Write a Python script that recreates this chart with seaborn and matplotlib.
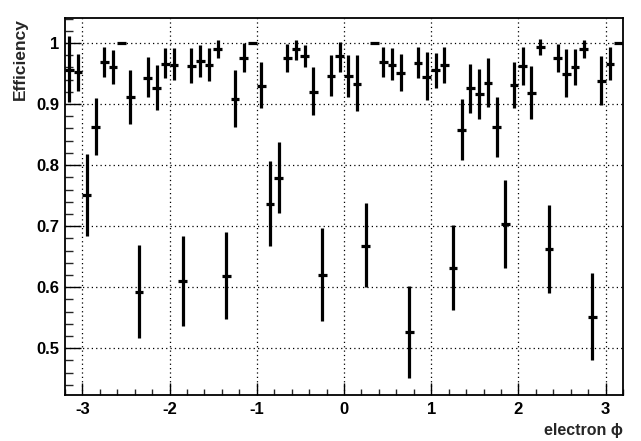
import numpy as np
import matplotlib
matplotlib.use("Agg")
import matplotlib.pyplot as plt
import seaborn as sns
from matplotlib.ticker import MultipleLocator, FuncFormatter

# bin centres in electron phi (64 bins of width 0.1 from -3.2 to 3.2)
phi = [-3.15, -3.05, -2.95, -2.85, -2.75, -2.65, -2.55, -2.45, -2.35, -2.25,
       -2.15, -2.05, -1.95, -1.85, -1.75, -1.65, -1.55, -1.45, -1.35, -1.25,
       -1.15, -1.05, -0.95, -0.85, -0.75, -0.65, -0.55, -0.45, -0.35, -0.25,
       -0.15, -0.05, 0.05, 0.15, 0.25, 0.35, 0.45, 0.55, 0.65, 0.75,
       0.85, 0.95, 1.05, 1.15, 1.25, 1.35, 1.45, 1.55, 1.65, 1.75,
       1.85, 1.95, 2.05, 2.15, 2.25, 2.35, 2.45, 2.55, 2.65, 2.75,
       2.85, 2.95, 3.05, 3.15]
half_width = 0.05

# efficiency per bin
eff = [0.956, 0.952, 0.751, 0.862, 0.969, 0.961, 1.000, 0.912, 0.592, 0.943,
       0.927, 0.966, 0.964, 0.610, 0.963, 0.970, 0.964, 0.991, 0.618, 0.909,
       0.976, 1.000, 0.930, 0.736, 0.779, 0.975, 0.990, 0.979, 0.920, 0.620,
       0.946, 0.978, 0.946, 0.933, 0.668, 1.000, 0.969, 0.964, 0.951, 0.526,
       0.968, 0.945, 0.955, 0.964, 0.631, 0.858, 0.927, 0.917, 0.935, 0.863,
       0.704, 0.931, 0.962, 0.918, 0.994, 0.662, 0.976, 0.949, 0.961, 0.991,
       0.551, 0.938, 0.966, 1.000]

# asymmetric errors (upper / lower)
err_hi = [0.056, 0.030, 0.067, 0.048, 0.025, 0.027, 0.000, 0.043, 0.077, 0.034,
          0.037, 0.026, 0.028, 0.074, 0.029, 0.026, 0.028, 0.014, 0.073, 0.046,
          0.024, 0.000, 0.039, 0.071, 0.059, 0.024, 0.015, 0.018, 0.040, 0.077,
          0.035, 0.024, 0.035, 0.048, 0.070, 0.000, 0.024, 0.028, 0.031, 0.076,
          0.026, 0.040, 0.028, 0.030, 0.071, 0.051, 0.039, 0.041, 0.040, 0.049,
          0.072, 0.038, 0.032, 0.045, 0.013, 0.073, 0.023, 0.041, 0.029, 0.014,
          0.072, 0.040, 0.028, 0.000]
err_lo = [0.053, 0.030, 0.067, 0.046, 0.024, 0.028, 0.000, 0.044, 0.076, 0.032,
          0.037, 0.023, 0.025, 0.073, 0.029, 0.026, 0.027, 0.016, 0.070, 0.047,
          0.023, 0.000, 0.037, 0.069, 0.057, 0.023, 0.018, 0.019, 0.038, 0.076,
          0.033, 0.026, 0.035, 0.045, 0.068, 0.000, 0.025, 0.025, 0.030, 0.074,
          0.025, 0.039, 0.029, 0.029, 0.069, 0.050, 0.041, 0.042, 0.040, 0.049,
          0.072, 0.037, 0.030, 0.042, 0.013, 0.071, 0.023, 0.038, 0.029, 0.016,
          0.071, 0.039, 0.027, 0.000]

sns.set_style("ticks")
plt.rcParams['font.family'] = ['Liberation Sans', 'DejaVu Sans']
plt.rcParams['font.weight'] = 'bold'
plt.rcParams['axes.unicode_minus'] = False

W, H = 641, 441
fig = plt.figure(figsize=(W / 100, H / 100), dpi=100)
fig.patch.set_facecolor('white')
ax = fig.add_axes([65 / W, 1 - 395 / H, (623 - 65) / W, (395 - 18) / H])
ax.set_facecolor('white')

ax.errorbar(phi, eff, xerr=half_width, yerr=[err_lo, err_hi], fmt='none',
            ecolor='black', elinewidth=2.3, capsize=0, zorder=3)

ax.set_xlim(-3.2, 3.2)
ax.set_ylim(0.4234, 1.041)

ax.xaxis.set_major_locator(MultipleLocator(1))
ax.xaxis.set_minor_locator(MultipleLocator(0.2))
ax.yaxis.set_major_locator(MultipleLocator(0.1))
ax.yaxis.set_minor_locator(MultipleLocator(0.02))
fmt = FuncFormatter(lambda v, p: f"{v:g}")
ax.xaxis.set_major_formatter(fmt)
ax.yaxis.set_major_formatter(fmt)

ax.grid(which='major', color='black', linestyle=(0, (1, 2.5)), linewidth=0.9)
ax.tick_params(axis='x', which='major', direction='in', length=8.5, width=1,
               labelsize=12, pad=5, colors='black')
ax.tick_params(axis='x', which='minor', direction='in', length=4, width=1)
ax.tick_params(axis='y', which='major', direction='in', length=11.5, width=1,
               labelsize=12, pad=4, colors='black')
ax.tick_params(axis='y', which='minor', direction='in', length=6, width=1)
for lab in ax.get_xticklabels() + ax.get_yticklabels():
    lab.set_fontweight('bold')

for s in ax.spines.values():
    s.set_color('black')
    s.set_linewidth(1.3)

fig.text(623 / W, 1 - 431 / H, "electron ϕ", ha='right', va='center',
         fontsize=11.5, fontweight='bold')
fig.text(20 / W, 1 - 18 / H, "Efficiency", rotation=90, ha='center', va='top',
         fontsize=12.5, fontweight='bold')

fig.savefig("out.png", dpi=100)
